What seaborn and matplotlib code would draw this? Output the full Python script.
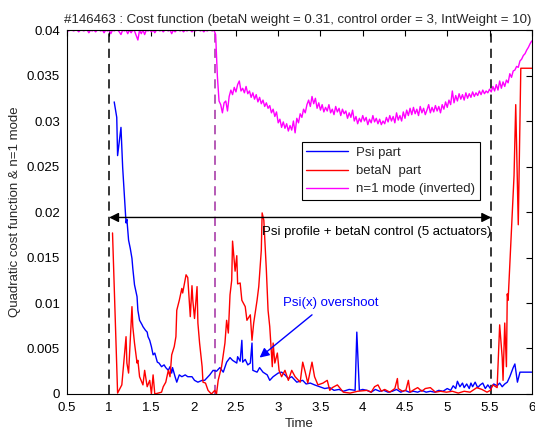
import numpy as np
import matplotlib
matplotlib.use("Agg")
import matplotlib.pyplot as plt
from matplotlib.lines import Line2D
import seaborn as sns

# ---- shot info -------------------------------------------------------------
title_text = "#146463 : Cost function (betaN weight = 0.31, control order = 3, IntWeight = 10)"

# ---- Psi part of the quadratic cost ---------------------------------------
psi_t = [1.06, 1.09, 1.10, 1.14, 1.15, 1.16, 1.19, 1.20, 1.21, 1.23,
         1.25, 1.27, 1.28, 1.30, 1.33, 1.34, 1.36, 1.39, 1.40, 1.43,
         1.45, 1.46, 1.48, 1.50, 1.52, 1.54, 1.57, 1.59, 1.62, 1.65,
         1.67, 1.70, 1.72, 1.74, 1.75, 1.78, 1.80, 1.83, 1.86, 1.90,
         1.93, 1.98, 2.01, 2.05, 2.10, 2.13, 2.16, 2.19, 2.23, 2.27,
         2.31, 2.35, 2.39, 2.43, 2.46, 2.51, 2.52, 2.55, 2.57, 2.58,
         2.61, 2.64, 2.67, 2.69, 2.70, 2.75, 2.78, 2.82, 2.87, 2.90,
         2.94, 3.00, 3.04, 3.08, 3.12, 3.16, 3.22, 3.29, 3.33, 3.38,
         3.43, 3.49, 3.55, 3.61, 3.66, 3.72, 3.77, 3.84, 3.91, 3.93,
         3.96, 4.00, 4.05, 4.10, 4.15, 4.20, 4.25, 4.30, 4.35, 4.40,
         4.45, 4.50, 4.55, 4.60, 4.65, 4.70, 4.75, 4.80, 4.85, 4.90,
         4.95, 5.00, 5.04, 5.07, 5.10, 5.12, 5.15, 5.18, 5.20, 5.23,
         5.26, 5.28, 5.30, 5.33, 5.36, 5.39, 5.42, 5.45, 5.48, 5.51,
         5.55, 5.59, 5.62, 5.65, 5.68, 5.71, 5.74, 5.78, 5.80, 5.83,
         5.86, 5.90, 5.95, 6.00]
psi_cost = [0.0321, 0.0304, 0.0262, 0.0293, 0.0271, 0.0249, 0.0203, 0.0188, 0.0192, 0.0169,
            0.0160, 0.0149, 0.0138, 0.0120, 0.0107, 0.0092, 0.0081, 0.0076, 0.0074, 0.0070,
            0.0068, 0.0063, 0.0059, 0.0052, 0.0043, 0.0045, 0.0035, 0.0034, 0.0030, 0.0032,
            0.0029, 0.0026, 0.0030, 0.0023, 0.0029, 0.0019, 0.0013, 0.0021, 0.0019, 0.0021,
            0.0019, 0.0019, 0.0015, 0.0013, 0.0015, 0.0015, 0.0018, 0.0021, 0.0026, 0.0025,
            0.0029, 0.0024, 0.0035, 0.0040, 0.0037, 0.0034, 0.0041, 0.0036, 0.0059, 0.0035,
            0.0038, 0.0032, 0.0034, 0.0056, 0.0026, 0.0024, 0.0029, 0.0024, 0.0021, 0.0015,
            0.0019, 0.0023, 0.0024, 0.0021, 0.0017, 0.0019, 0.0013, 0.0015, 0.0011, 0.0012,
            0.0010, 0.0008, 0.0006, 0.0007, 0.0004, 0.0005, 0.0003, 0.0005, 0.0004, 0.0068,
            0.0004, 0.0005, 0.0004, 0.0002, 0.0005, 0.0003, 0.0004, 0.0002, 0.0003, 0.0005,
            0.0002, 0.0004, 0.0002, 0.0003, 0.0002, 0.0004, 0.0002, 0.0003, 0.0002, 0.0004,
            0.0003, 0.0006, 0.0004, 0.0009, 0.0006, 0.0014, 0.0008, 0.0012, 0.0007, 0.0011,
            0.0006, 0.0012, 0.0008, 0.0013, 0.0007, 0.0010, 0.0012, 0.0006, 0.0010, 0.0006,
            0.0011, 0.0009, 0.0012, 0.0008, 0.0011, 0.0013, 0.0019, 0.0029, 0.0033, 0.0013,
            0.0024, 0.0024, 0.0024, 0.0024]

# ---- betaN part of the quadratic cost --------------------------------------
betan_t = [1.04, 1.10, 1.15, 1.20, 1.21, 1.23, 1.27, 1.28, 1.30, 1.33,
           1.34, 1.36, 1.40, 1.42, 1.45, 1.48, 1.50, 1.52, 1.54, 1.58,
           1.62, 1.64, 1.67, 1.70, 1.72, 1.74, 1.77, 1.79, 1.80, 1.83,
           1.86, 1.87, 1.91, 1.93, 1.96, 1.98, 1.99, 2.01, 2.04, 2.05,
           2.07, 2.10, 2.11, 2.14, 2.17, 2.21, 2.25, 2.27, 2.29, 2.33,
           2.37, 2.39, 2.41, 2.43, 2.45, 2.46, 2.49, 2.51, 2.52, 2.55,
           2.57, 2.61, 2.63, 2.67, 2.69, 2.71, 2.75, 2.77, 2.80, 2.81,
           2.83, 2.86, 2.88, 2.90, 2.93, 2.94, 2.96, 2.99, 3.01, 3.04,
           3.08, 3.12, 3.16, 3.20, 3.26, 3.29, 3.32, 3.35, 3.40, 3.43,
           3.47, 3.53, 3.58, 3.61, 3.64, 3.70, 3.77, 3.85, 3.94, 4.05,
           4.10, 4.14, 4.18, 4.22, 4.26, 4.32, 4.38, 4.41, 4.42, 4.47,
           4.51, 4.54, 4.56, 4.61, 4.65, 4.70, 4.74, 4.80, 4.86, 4.92,
           4.99, 5.06, 5.13, 5.20, 5.27, 5.35, 5.41, 5.47, 5.51, 5.54,
           5.59, 5.62, 5.65, 5.66, 5.68, 5.70, 5.71, 5.72, 5.76, 5.79,
           5.81, 5.84, 5.87, 6.00]
betan_cost = [0.0177, 0.0001, 0.0010, 0.0063, 0.0034, 0.0023, 0.0096, 0.0074, 0.0056, 0.0034,
              0.0037, 0.0019, 0.0010, 0.0026, 0.0008, 0.0015, 0.0000, 0.0021, 0.0000, 0.0001,
              0.0002, 0.0008, 0.0013, 0.0026, 0.0019, 0.0043, 0.0052, 0.0063, 0.0092, 0.0103,
              0.0116, 0.0111, 0.0131, 0.0128, 0.0085, 0.0119, 0.0103, 0.0083, 0.0118, 0.0078,
              0.0056, 0.0030, 0.0013, 0.0012, 0.0004, 0.0000, 0.0004, 0.0000, 0.0015, 0.0030,
              0.0056, 0.0081, 0.0067, 0.0109, 0.0125, 0.0168, 0.0135, 0.0152, 0.0121, 0.0122,
              0.0103, 0.0096, 0.0081, 0.0087, 0.0059, 0.0078, 0.0103, 0.0118, 0.0158, 0.0199,
              0.0191, 0.0136, 0.0092, 0.0074, 0.0030, 0.0056, 0.0034, 0.0045, 0.0026, 0.0019,
              0.0026, 0.0015, 0.0026, 0.0019, 0.0013, 0.0035, 0.0024, 0.0012, 0.0035, 0.0019,
              0.0010, 0.0012, 0.0015, 0.0004, 0.0007, 0.0010, 0.0002, 0.0001, 0.0003, 0.0004,
              0.0002, 0.0008, 0.0010, 0.0003, 0.0005, 0.0002, 0.0006, 0.0017, 0.0006, 0.0003,
              0.0004, 0.0015, 0.0002, 0.0005, 0.0007, 0.0003, 0.0006, 0.0007, 0.0002, 0.0003,
              0.0002, 0.0003, 0.0001, 0.0003, 0.0002, 0.0007, 0.0005, 0.0002, 0.0004, 0.0010,
              0.0007, 0.0076, 0.0040, 0.0015, 0.0078, 0.0030, 0.0110, 0.0103, 0.0180, 0.0240,
              0.0318, 0.0186, 0.0358, 0.0358]

# ---- n=1 mode amplitude (inverted), sampled every 20 ms from t = 0.5 s ------
mode_t0 = 0.5
mode_dt = 0.02
mode_n1 = [0.0400, 0.0399, 0.0400, 0.0400, 0.0399, 0.0400, 0.0400, 0.0398, 0.0400, 0.0400,
           0.0399, 0.0400, 0.0400, 0.0397, 0.0400, 0.0399, 0.0400, 0.0398, 0.0400, 0.0400,
           0.0399, 0.0400, 0.0397, 0.0400, 0.0399, 0.0400, 0.0396, 0.0400, 0.0399, 0.0400,
           0.0400, 0.0398, 0.0395, 0.0400, 0.0399, 0.0400, 0.0396, 0.0400, 0.0397, 0.0400,
           0.0399, 0.0394, 0.0389, 0.0400, 0.0396, 0.0400, 0.0395, 0.0400, 0.0399, 0.0400,
           0.0398, 0.0400, 0.0397, 0.0400, 0.0400, 0.0399, 0.0400, 0.0398, 0.0400, 0.0400,
           0.0399, 0.0400, 0.0396, 0.0400, 0.0398, 0.0400, 0.0400, 0.0399, 0.0400, 0.0398,
           0.0400, 0.0399, 0.0400, 0.0400, 0.0398, 0.0400, 0.0399, 0.0400, 0.0400, 0.0399,
           0.0400, 0.0398, 0.0400, 0.0399, 0.0400, 0.0400, 0.0399, 0.0400,
           0.0395, 0.0350, 0.0322, 0.0318, 0.0309, 0.0320, 0.0322, 0.0311, 0.0327, 0.0334,
           0.0329, 0.0337, 0.0332, 0.0340, 0.0344, 0.0333, 0.0336, 0.0331, 0.0338, 0.0330,
           0.0333, 0.0326, 0.0331, 0.0324, 0.0329, 0.0321, 0.0326, 0.0319, 0.0323, 0.0316,
           0.0320, 0.0314, 0.0317, 0.0309, 0.0313, 0.0305, 0.0310, 0.0298, 0.0302, 0.0293,
           0.0299, 0.0292, 0.0297, 0.0289, 0.0295, 0.0290, 0.0300, 0.0287, 0.0303, 0.0298,
           0.0308, 0.0304, 0.0313, 0.0309, 0.0318, 0.0323, 0.0316, 0.0327, 0.0319, 0.0325,
           0.0314, 0.0320, 0.0312, 0.0318, 0.0310, 0.0315, 0.0311, 0.0318, 0.0309, 0.0313,
           0.0307, 0.0316, 0.0310, 0.0314, 0.0306, 0.0313, 0.0308, 0.0311, 0.0303, 0.0309,
           0.0304, 0.0312, 0.0300, 0.0305, 0.0297, 0.0303, 0.0299, 0.0306, 0.0300, 0.0304,
           0.0296, 0.0302, 0.0298, 0.0306, 0.0299, 0.0303, 0.0297, 0.0302, 0.0296, 0.0300,
           0.0297, 0.0304, 0.0299, 0.0306, 0.0300, 0.0305, 0.0298, 0.0309, 0.0301, 0.0306,
           0.0300, 0.0310, 0.0303, 0.0312, 0.0306, 0.0314, 0.0307, 0.0315, 0.0308, 0.0313,
           0.0306, 0.0316, 0.0309, 0.0314, 0.0307, 0.0312, 0.0318, 0.0309, 0.0315, 0.0310,
           0.0317, 0.0311, 0.0316, 0.0309, 0.0318, 0.0313, 0.0321, 0.0315, 0.0323, 0.0318,
           0.0333, 0.0320, 0.0328, 0.0322, 0.0330, 0.0324, 0.0329, 0.0323, 0.0331, 0.0325,
           0.0330, 0.0326, 0.0332, 0.0327, 0.0331, 0.0328, 0.0333, 0.0329, 0.0334, 0.0330,
           0.0333, 0.0331, 0.0335, 0.0332, 0.0338, 0.0333, 0.0340, 0.0334, 0.0344, 0.0336,
           0.0343, 0.0338, 0.0345, 0.0342, 0.0352, 0.0348, 0.0355, 0.0356, 0.0360, 0.0359,
           0.0366, 0.0368, 0.0372, 0.0374, 0.0378, 0.0381, 0.0385, 0.0388]
mode_t = mode_t0 + mode_dt * np.arange(len(mode_n1))

# ---- control phases and annotations ---------------------------------------
control_on, control_off = 1.0, 5.52
phase_switch = 2.25
control_span_y = 0.0194
control_label = "Psi profile + betaN control (5 actuators)"
control_label_pos = (2.81, 0.0178)
overshoot_label = "Psi(x) overshoot"
overshoot_label_pos = (3.06, 0.0100)
overshoot_tail = (3.40, 0.0087)
overshoot_tip = (2.78, 0.0040)

series_names = ["Psi part", "betaN  part", "n=1 mode (inverted)"]
x_ticks = [0.5, 1, 1.5, 2, 2.5, 3, 3.5, 4, 4.5, 5, 5.5, 6]
x_tick_labels = ["0.5", "1", "1.5", "2", "2.5", "3", "3.5", "4", "4.5", "5", "5.5", "6"]
y_ticks = [0, 0.005, 0.01, 0.015, 0.02, 0.025, 0.03, 0.035, 0.04]
y_tick_labels = ["0", "0.005", "0.01", "0.015", "0.02", "0.025", "0.03", "0.035", "0.04"]

# ---- figure ----------------------------------------------------------------
sns.set_style("white")
plt.rcParams["font.family"] = ["Liberation Sans", "DejaVu Sans"]
plt.rcParams["font.size"] = 9.5

fig = plt.figure(figsize=(5.35, 4.29), dpi=100)
ax = fig.add_axes([0.125, 0.0816, 0.869, 0.8484])

c_psi, c_betan, c_mode = "#0000ff", "#ff0000", "#ff00ff"
lw = 1.0

sns.lineplot(x=psi_t, y=psi_cost, ax=ax, color=c_psi, lw=lw,
             estimator=None, sort=False, label=series_names[0])
sns.lineplot(x=betan_t, y=betan_cost, ax=ax, color=c_betan, lw=lw,
             estimator=None, sort=False, label=series_names[1])
sns.lineplot(x=mode_t, y=mode_n1, ax=ax, color=c_mode, lw=lw,
             estimator=None, sort=False, label=series_names[2])

# phase markers
for tx in (control_on, control_off):
    ax.axvline(tx, color="black", lw=1.1, ls=(0, (6, 4)), zorder=1)
ax.axvline(phase_switch, color="#a22ea2", lw=1.1, ls=(0, (6, 4)), zorder=1)

# control window arrow
ax.annotate("", xy=(control_off, control_span_y), xytext=(control_on, control_span_y),
            arrowprops=dict(arrowstyle="<|-|>", color="black", lw=1.0,
                            mutation_scale=14, shrinkA=0, shrinkB=0))
ax.text(control_label_pos[0], control_label_pos[1], control_label,
        ha="left", va="center", fontsize=9.5, color="black")

# overshoot annotation
ax.annotate("", xy=overshoot_tip, xytext=overshoot_tail,
            arrowprops=dict(arrowstyle="-|>", color=c_psi, lw=1.0,
                            mutation_scale=14, shrinkA=0, shrinkB=0))
ax.text(overshoot_label_pos[0], overshoot_label_pos[1], overshoot_label,
        ha="left", va="center", fontsize=9.5, color=c_psi)

ax.set_xlim(0.5, 6)
ax.set_ylim(0, 0.04)
ax.set_xticks(x_ticks)
ax.set_xticklabels(x_tick_labels)
ax.set_yticks(y_ticks)
ax.set_yticklabels(y_tick_labels)
ax.tick_params(direction="in", length=4, width=0.8, top=True, right=True,
               labelsize=9.5, colors="black")
ax.tick_params(axis="x", pad=6)
ax.tick_params(axis="y", pad=5)
for sp in ax.spines.values():
    sp.set_color("black")
    sp.set_linewidth(0.8)

ax.set_xlabel("Time", fontsize=9.5, labelpad=3)
ax.set_ylabel("Quadratic cost function & n=1 mode", fontsize=9.5, labelpad=4)
ax.set_title(title_text, fontsize=9.5, pad=5, loc="right")

handles = [Line2D([], [], color=c, lw=lw) for c in (c_psi, c_betan, c_mode)]
leg = ax.legend(handles, series_names, loc="upper left",
                bbox_to_anchor=(0.505, 0.692), fontsize=9.5, frameon=True,
                fancybox=False, edgecolor="black", framealpha=1,
                handlelength=3.2, handletextpad=0.6, borderpad=0.35,
                labelspacing=0.45, borderaxespad=0)
leg.get_frame().set_linewidth(0.8)

fig.savefig("out.png", dpi=100)
